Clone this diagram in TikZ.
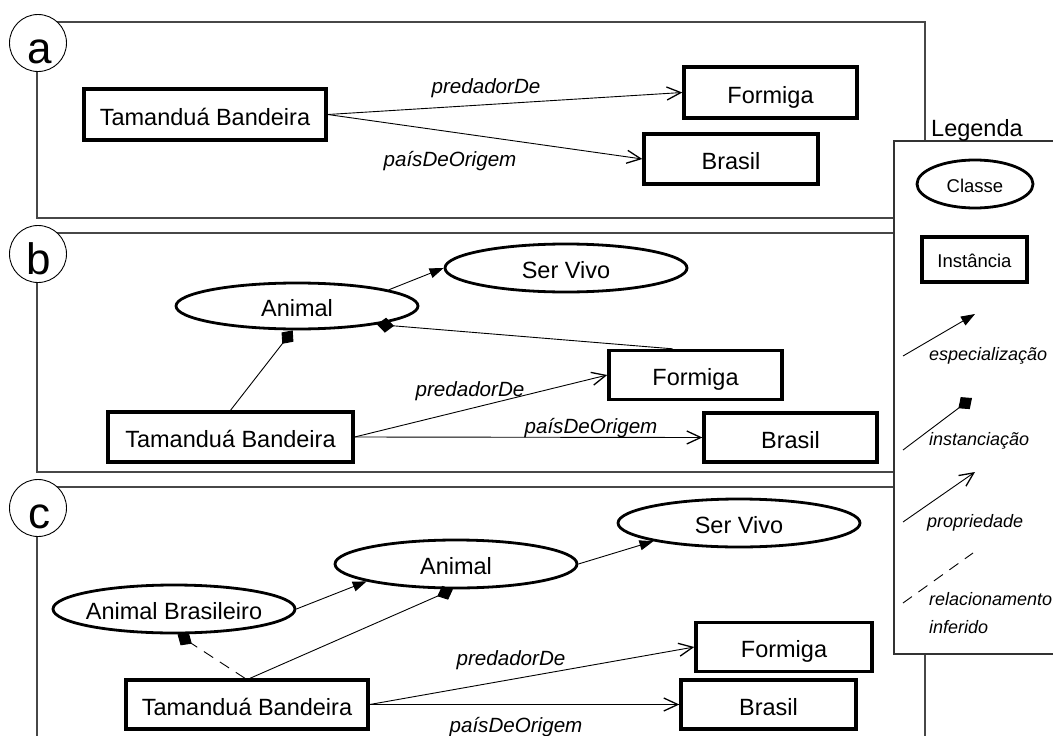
\documentclass[tikz,border=0pt]{standalone}
\usepackage{fontspec}
\setmainfont{Liberation Sans}
\usetikzlibrary{arrows.meta,shapes.geometric}

\tikzset{
  frame/.style={draw=black!72, line width=1.1pt},
  tag/.style={circle, draw, line width=0.9pt, fill=white, minimum size=57pt, inner sep=0pt},
  tagtxt/.style={font=\fontsize{44}{44}\selectfont, anchor=base, inner sep=0pt},
  inst/.style={rectangle, draw=black, line width=3.4pt, inner sep=0pt,
    text height=21pt, text depth=0pt, font=\fontsize{23.5}{24}\selectfont},
  cls/.style={ellipse, draw, line width=2.8pt, inner sep=0pt, minimum width=242pt,
    minimum height=47pt, text height=21pt, text depth=0pt, font=\fontsize{23.5}{24}\selectfont},
  small/.style={text height=16pt, font=\fontsize{18.5}{19}\selectfont},
  conn/.style={line width=0.9pt},
  spec/.style={conn, -{Triangle[length=14pt,width=10pt]}},
  instof/.style={conn, -{Diamond[length=17pt,width=15pt]}},
  prop/.style={conn, -{Straight Barb[length=14pt,width=13pt,line width=1.3pt]}},
  inferred/.style={conn, dash pattern=on 11pt off 8pt},
  lbl/.style={font=\itshape\fontsize{20.6}{21}\selectfont, inner sep=0pt, anchor=base},
  leglbl/.style={font=\itshape\fontsize{18}{19}\selectfont, inner sep=0pt, anchor=base west},
}

\begin{document}
\begin{tikzpicture}[x=1pt,y=-1pt]
\useasboundingbox (0,0) rectangle (1053,736);
\clip (0,0) rectangle (1053,736);

% panel frames
\draw[frame] (37,22) rectangle (925,218);
\draw[frame] (37,233) rectangle (925,472);
\draw[frame] (37,487) rectangle (925,760);

% panel tags
\node[tag] (tagA) at (38,43) {};
\node[tagtxt] (tagAt) at (40,63) {a};
\node[tag] (tagB) at (38,254) {};
\node[tagtxt] (tagBt) at (39,274) {b};
\node[tag] (tagC) at (38,508) {};
\node[tagtxt] (tagCt) at (39,528) {c};

% ---- panel a ----
\node[inst, minimum width=242pt, minimum height=51pt] (ta) at (205,114.5) {Tamanduá Bandeira};
\node[inst, minimum width=173pt, minimum height=51pt] (fa) at (770.5,92.5) {Formiga};
\node[inst, minimum width=174pt, minimum height=50pt] (ba) at (731,159) {Brasil};
\draw[prop] (ta.east) -- (fa.west);
\draw[prop] (ta.east) -- (ba.west);
\node[lbl] (pa1) at (486,93) {predadorDe};
\node[lbl] (pa2) at (450,166) {paísDeOrigem};

% ---- panel b ----
\node[cls, minimum height=48pt] (svb) at (566,268) {Ser Vivo};
\node[cls, minimum height=46pt] (anb) at (297,306) {Animal};
\node[inst, minimum width=173pt, minimum height=49pt] (fb) at (695.5,375) {Formiga};
\node[inst, minimum width=245pt, minimum height=50pt] (tb) at (230.5,437) {Tamanduá Bandeira};
\node[inst, minimum width=173pt, minimum height=49pt] (bb) at (790.5,437.5) {Brasil};
\draw[spec] (anb.10) -- (svb.west);
\draw[instof] (tb.north) -- (anb.260);
\draw[instof] ([xshift=-23pt]fb.north) -- (anb.347);
\draw[prop] (tb.east) -- (fb.west);
\draw[prop] (tb.east) -- (bb.west);
\node[lbl] (pb1) at (470,396) {predadorDe};
\node[lbl] (pb2) at (591,433) {paísDeOrigem};

% ---- panel c ----
\node[cls, minimum height=48pt] (svc) at (739,523) {Ser Vivo};
\node[cls, minimum height=48pt] (anc) at (456,564) {Animal};
\node[cls, minimum height=48pt] (abr) at (174,609) {\makebox[0pt]{Animal Brasileiro}};
\node[inst, minimum width=176pt, minimum height=49pt] (fc) at (784,647) {Formiga};
\node[inst, minimum width=242pt, minimum height=49pt] (tc) at (247,704.5) {Tamanduá Bandeira};
\node[inst, minimum width=175pt, minimum height=49pt] (bc) at (768.5,704.5) {Brasil};
\draw[spec] (abr.east) -- (anc.191);
\draw[spec] (anc.east) -- (svc.192);
\draw[instof] ([xshift=3pt]tc.north) -- (anc.263);
\draw[inferred, -{Diamond[length=17pt,width=15pt]}] ([xshift=-2pt]tc.north) -- (abr.278);
\draw[prop] (tc.east) -- (fc.west);
\draw[prop] (tc.east) -- (bc.west);
\node[lbl] (pc1) at (511,665) {predadorDe};
\node[lbl] (pc2) at (516,732) {paísDeOrigem};

% ---- legend ----
\draw[draw=black!80, line width=1.1pt, fill=white] (894,141) rectangle (1070,654);
\node[anchor=base west, inner sep=0pt, font=\fontsize{23.5}{24}\selectfont] (leg) at (931,136) {Legenda};
\node[cls, small, minimum width=116pt, minimum height=48pt] (lcls) at (975,184) {Classe};
\node[inst, small, minimum width=105pt, minimum height=45pt] (linst) at (974.5,259.5) {Instância};

\coordinate (s0) at (903,356);
\coordinate (s1) at (975,314);
\coordinate (i0) at (903,450);
\coordinate (i1) at (972,398);
\coordinate (p0) at (903,522);
\coordinate (p1) at (975,472);
\coordinate (d0) at (903,603);
\coordinate (d1) at (973,553);
\draw[spec] (s0) -- (s1);
\draw[instof] (i0) -- (i1);
\draw[prop] (p0) -- (p1);
\draw[inferred] (d0) -- (d1);
\node[leglbl] (ls) at (929,360) {especialização};
\node[leglbl] (li) at (929,445) {instanciação};
\node[leglbl] (lp) at (927,527) {propriedade};
\node[leglbl] (lr) at (929,605) {relacionamento};
\node[leglbl] (lf) at (929,633) {inferido};
\end{tikzpicture}
\end{document}
